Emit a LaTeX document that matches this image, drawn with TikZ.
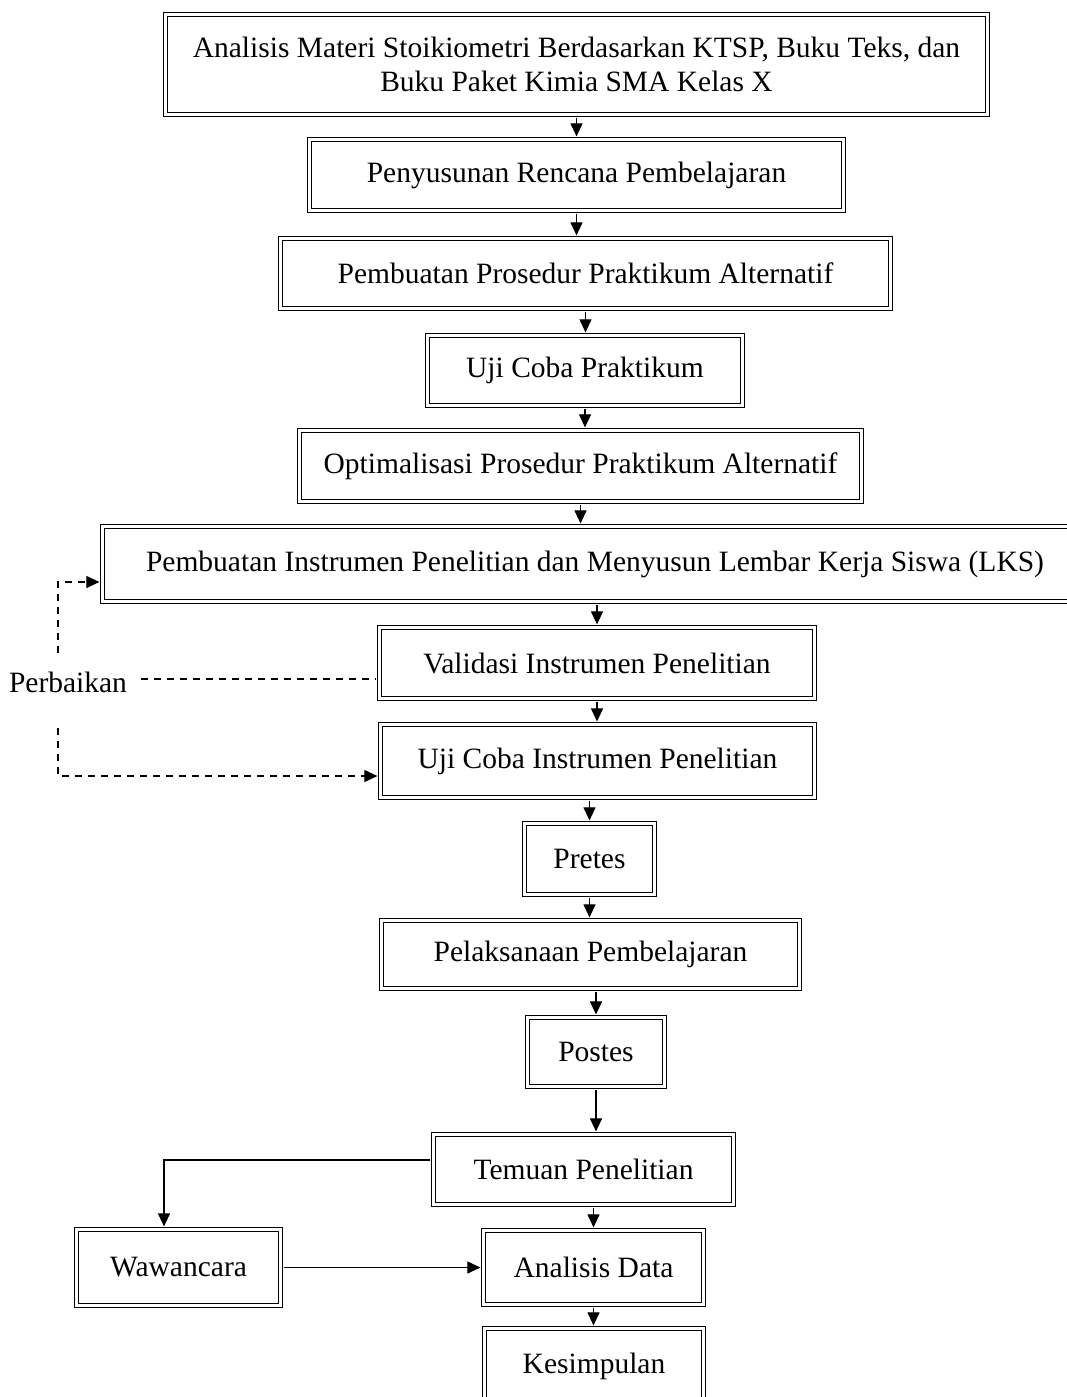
\documentclass[tikz,border=0pt]{standalone}
\usepackage{fontspec}
\setmainfont{Liberation Serif}
\usetikzlibrary{arrows.meta,calc}

\begin{document}
\begin{tikzpicture}[x=1pt,y=-1pt]
\tikzset{
	box/.style = {draw, double, double distance = 2.5pt, line width = 1.2pt, align = center, inner sep = 0pt, font = \fontsize{29.5}{34}\selectfont},
	flow/.style = {-{Triangle[length = 13pt, width = 12pt]}, line width = 1.1pt, shorten < = 2.5pt, shorten > = 2.5pt},
	back/.style = {flow, dash pattern = on 7pt off 6pt, shorten < = 0pt},
}
\useasboundingbox (0,0) rectangle (1067,1397);

\node(analisis)[box, minimum width = 822pt, minimum height = 100pt] at (576.5,64.5) {Analisis Materi Stoikiometri Berdasarkan KTSP, Buku Teks, dan\\Buku Paket Kimia SMA Kelas X};
\node(rencana)[box, minimum width = 534pt, minimum height = 71pt] at (576.5,175) {Penyusunan Rencana Pembelajaran};
\node(prosedur)[box, minimum width = 610pt, minimum height = 70pt] at (585.5,273.5) {Pembuatan Prosedur Praktikum Alternatif};
\node(ujicoba)[box, minimum width = 315pt, minimum height = 70pt] at (585,370.5) {Uji Coba Praktikum};
\node(optimal)[box, minimum width = 562pt, minimum height = 71pt] at (580.5,466) {Optimalisasi Prosedur Praktikum Alternatif};
\node(instrumen)[box, minimum width = 985pt, minimum height = 75pt] at (595,564) {Pembuatan Instrumen Penelitian dan Menyusun Lembar Kerja Siswa (LKS)};
\node(validasi)[box, minimum width = 435pt, minimum height = 71pt] at (597,663) {Validasi Instrumen Penelitian};
\node(ujiinstr)[box, minimum width = 434pt, minimum height = 73pt] at (597.5,761) {Uji Coba Instrumen Penelitian};
\node(pretes)[box, minimum width = 130pt, minimum height = 71pt] at (589.5,859) {Pretes};
\node(pelaksanaan)[box, minimum width = 418pt, minimum height = 68pt] at (590.5,954.5) {Pelaksanaan Pembelajaran};
\node(postes)[box, minimum width = 137pt, minimum height = 69pt] at (596,1052) {Postes};
\node(temuan)[box, minimum width = 300pt, minimum height = 70pt] at (583.5,1169.5) {Temuan Penelitian};
\node(wawancara)[box, minimum width = 204pt, minimum height = 76pt] at (178.5,1267.5) {Wawancara};
\node(data)[box, minimum width = 220pt, minimum height = 74pt] at (593.5,1267.5) {Analisis Data};
\node(kesimpulan)[box, minimum width = 219pt, minimum height = 75pt] at (594,1366) {Kesimpulan};

\node(perbaikan)[font = \fontsize{29.5}{34}\selectfont, inner sep = 0pt] at (68,682) {Perbaikan};

\draw [flow] (analisis.south) to (analisis.south |- rencana.north);
\draw [flow] (rencana.south) to (rencana.south |- prosedur.north);
\draw [flow] (prosedur.south) to (prosedur.south |- ujicoba.north);
\draw [flow] (ujicoba.south) to (ujicoba.south |- optimal.north);
\draw [flow] (optimal.south) to (optimal.south |- instrumen.north);
\draw [flow] (validasi.north |- instrumen.south) to (validasi.north);
\draw [flow] (validasi.south) to (validasi.south |- ujiinstr.north);
\draw [flow] (pretes.north |- ujiinstr.south) to (pretes.north);
\draw [flow] (pretes.south) to (pretes.south |- pelaksanaan.north);
\draw [flow] (postes.north |- pelaksanaan.south) to (postes.north);
\draw [flow] (postes.south) to (postes.south |- temuan.north);
\draw [flow] (data.north |- temuan.south) to (data.north);
\draw [flow] (data.south) to (data.south |- kesimpulan.north);

\coordinate (belok) at (164,1160);
\draw [flow] (temuan.west |- belok) -- (belok) -- (belok |- wawancara.north);
\draw [flow] (wawancara.east) to (wawancara.east -| data.west);

\coordinate (atas1) at (58,653);
\coordinate (atas2) at (58,582);
\coordinate (bawah1) at (58,728);
\coordinate (bawah2) at (58,776);
\draw [back, -] ($(perbaikan.east)+(14,-3)$) to ($(perbaikan.east -| validasi.west)+(0,-3)$);
\draw [back] (atas1) -- (atas2) -- (atas2 -| instrumen.west);
\draw [back] (bawah1) -- (bawah2) -- (bawah2 -| ujiinstr.west);

\end{tikzpicture}
\end{document}
